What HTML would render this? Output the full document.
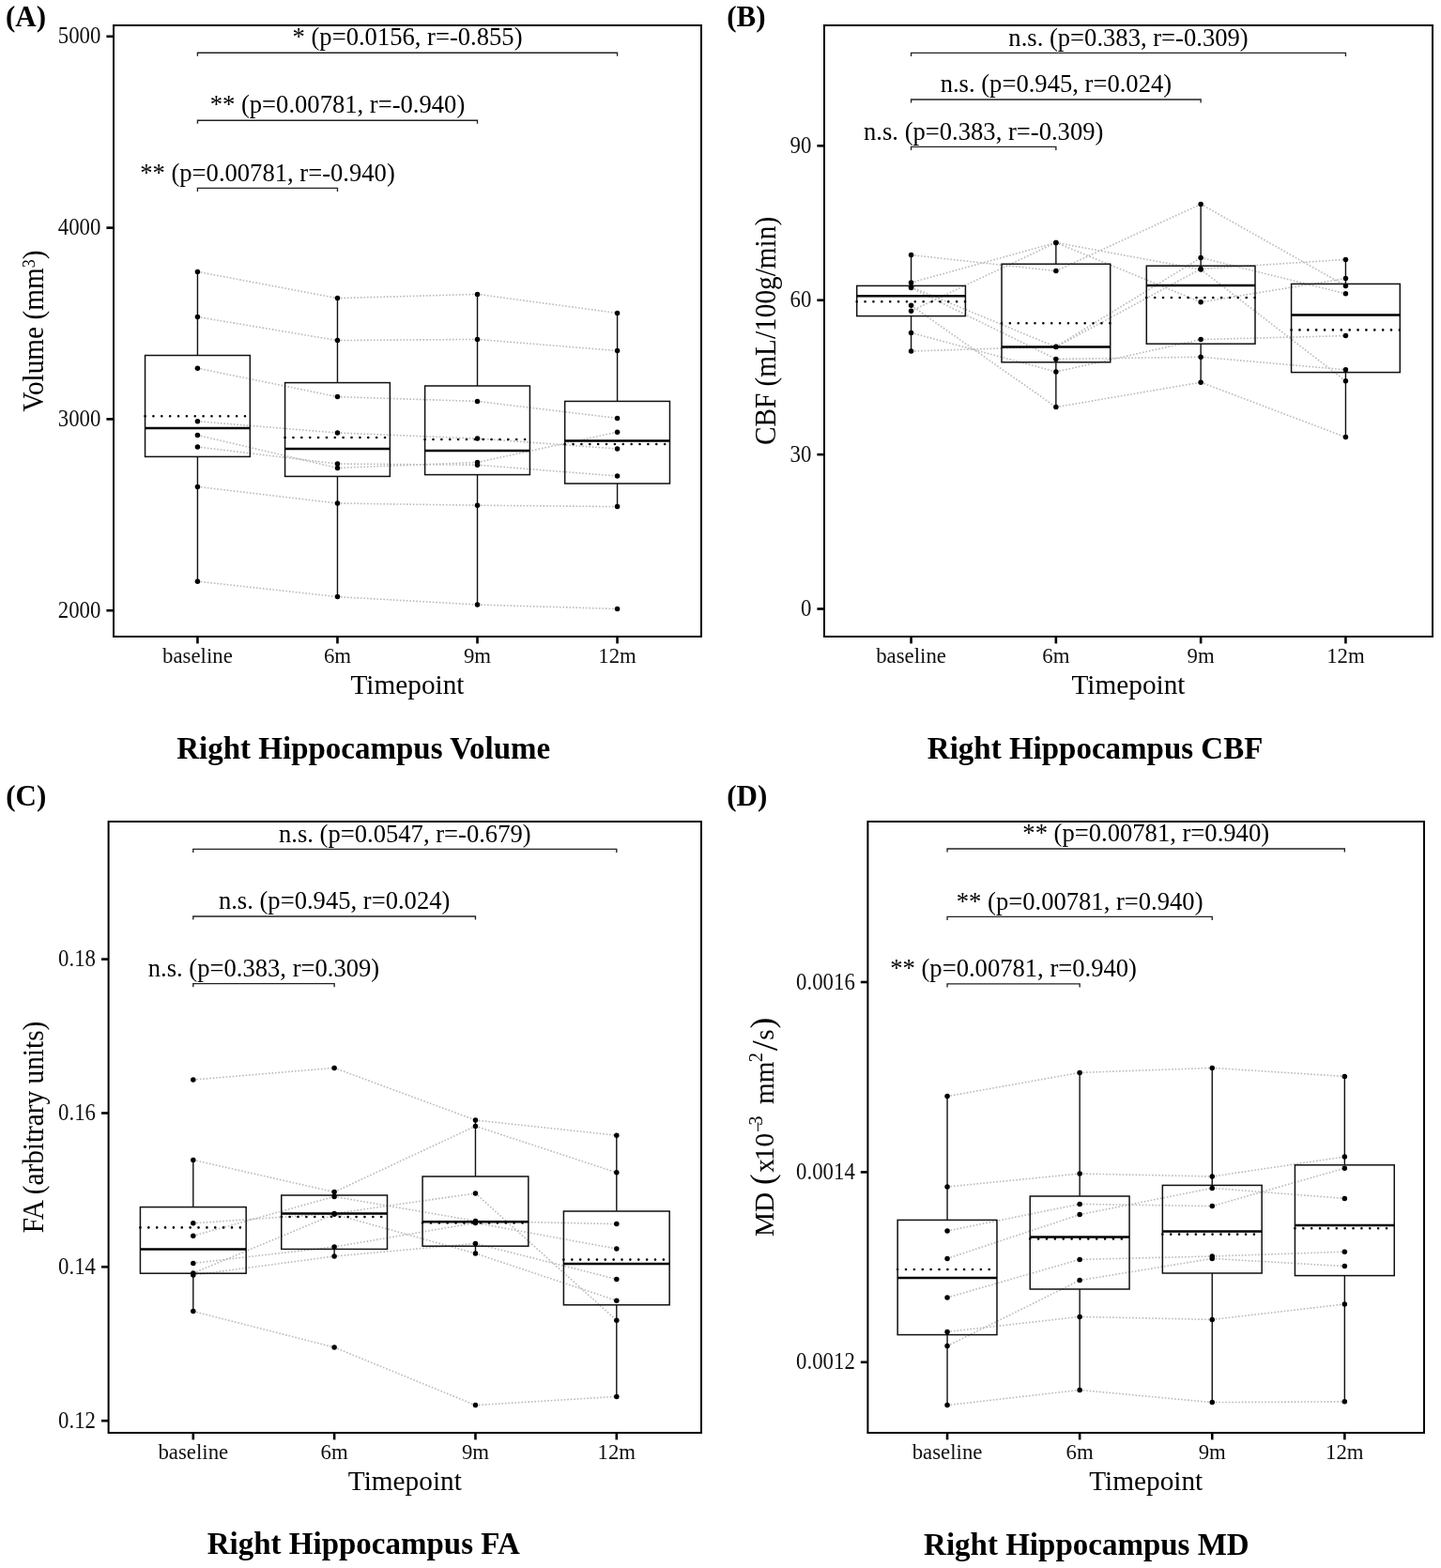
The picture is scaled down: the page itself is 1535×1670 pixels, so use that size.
<!DOCTYPE html>
<html><head><meta charset="utf-8"><title>Right Hippocampus figure</title>
<style>
html,body{margin:0;padding:0;background:#fff;}
body{width:1535px;height:1670px;overflow:hidden;}
svg{display:block;}
text{font-family:"Liberation Serif", "Times New Roman", serif;fill:#000;}
.ann{font-size:26.6px;text-anchor:middle;}
.yt{font-size:22.8px;text-anchor:end;fill:#111;}
.xt{font-size:22.8px;text-anchor:middle;fill:#111;}
.ti{font-size:29.3px;text-anchor:middle;}
.cap{font-size:33.0px;font-weight:bold;text-anchor:middle;}
.lab{font-size:31.0px;font-weight:bold;}
.fr{fill:none;stroke:#000;stroke-width:2.0;}
.tk{stroke:#000;stroke-width:2.6;}
.bx{fill:none;stroke:#111;stroke-width:1.5;}
.wh{stroke:#111;stroke-width:1.4;}
.md{stroke:#000;stroke-width:2.5;}
.mn{stroke:#000;stroke-width:2.6;stroke-linecap:round;stroke-dasharray:0.01 8.86;}
.br{fill:none;stroke:#222;stroke-width:1.35;}
.sl{stroke:#bababa;stroke-width:1.6;stroke-dasharray:1.6 1.9;}
circle{fill:#000;}
</style></head><body>
<svg width="1535" height="1670" viewBox="0 0 1535 1670">
<rect width="1535" height="1670" fill="#fff"/>
<g>
<line x1="210.43" y1="289.4" x2="359.48" y2="317.6" class="sl"/>
<line x1="210.43" y1="337.5" x2="359.48" y2="362.6" class="sl"/>
<line x1="210.43" y1="392.2" x2="359.48" y2="422.6" class="sl"/>
<line x1="210.43" y1="448.7" x2="359.48" y2="461" class="sl"/>
<line x1="210.43" y1="463.5" x2="359.48" y2="498.4" class="sl"/>
<line x1="210.43" y1="476" x2="359.48" y2="494" class="sl"/>
<line x1="210.43" y1="518.4" x2="359.48" y2="536" class="sl"/>
<line x1="210.43" y1="619.2" x2="359.48" y2="635.6" class="sl"/>
<line x1="359.48" y1="317.6" x2="508.52" y2="313.4" class="sl"/>
<line x1="359.48" y1="362.6" x2="508.52" y2="361.4" class="sl"/>
<line x1="359.48" y1="422.6" x2="508.52" y2="427.4" class="sl"/>
<line x1="359.48" y1="461" x2="508.52" y2="467" class="sl"/>
<line x1="359.48" y1="494" x2="508.52" y2="495.2" class="sl"/>
<line x1="359.48" y1="498.4" x2="508.52" y2="492.4" class="sl"/>
<line x1="359.48" y1="536" x2="508.52" y2="538.2" class="sl"/>
<line x1="359.48" y1="635.6" x2="508.52" y2="644" class="sl"/>
<line x1="508.52" y1="313.4" x2="657.57" y2="333.4" class="sl"/>
<line x1="508.52" y1="361.4" x2="657.57" y2="373.6" class="sl"/>
<line x1="508.52" y1="427.4" x2="657.57" y2="445.4" class="sl"/>
<line x1="508.52" y1="467" x2="657.57" y2="478" class="sl"/>
<line x1="508.52" y1="492.4" x2="657.57" y2="460.2" class="sl"/>
<line x1="508.52" y1="495.2" x2="657.57" y2="507" class="sl"/>
<line x1="508.52" y1="538.2" x2="657.57" y2="539.6" class="sl"/>
<line x1="508.52" y1="644" x2="657.57" y2="648.5" class="sl"/>
<line x1="210.43" y1="289.4" x2="210.43" y2="378.5" class="wh"/>
<line x1="210.43" y1="486.4" x2="210.43" y2="619.2" class="wh"/>
<rect x="154.54" y="378.5" width="111.79" height="107.9" class="bx"/>
<line x1="154.54" y1="456" x2="266.32" y2="456" class="md"/>
<line x1="154.54" y1="443.2" x2="266.32" y2="443.2" class="mn"/>
<circle cx="210.43" cy="289.4" r="2.75"/>
<circle cx="210.43" cy="337.5" r="2.75"/>
<circle cx="210.43" cy="392.2" r="2.75"/>
<circle cx="210.43" cy="448.7" r="2.75"/>
<circle cx="210.43" cy="463.5" r="2.75"/>
<circle cx="210.43" cy="476" r="2.75"/>
<circle cx="210.43" cy="518.4" r="2.75"/>
<circle cx="210.43" cy="619.2" r="2.75"/>
<line x1="359.48" y1="317.6" x2="359.48" y2="407.6" class="wh"/>
<line x1="359.48" y1="507.4" x2="359.48" y2="635.6" class="wh"/>
<rect x="303.58" y="407.6" width="111.79" height="99.8" class="bx"/>
<line x1="303.58" y1="478" x2="415.37" y2="478" class="md"/>
<line x1="303.58" y1="466" x2="415.37" y2="466" class="mn"/>
<circle cx="359.48" cy="317.6" r="2.75"/>
<circle cx="359.48" cy="362.6" r="2.75"/>
<circle cx="359.48" cy="422.6" r="2.75"/>
<circle cx="359.48" cy="461" r="2.75"/>
<circle cx="359.48" cy="494" r="2.75"/>
<circle cx="359.48" cy="498.4" r="2.75"/>
<circle cx="359.48" cy="536" r="2.75"/>
<circle cx="359.48" cy="635.6" r="2.75"/>
<line x1="508.52" y1="313.4" x2="508.52" y2="411" class="wh"/>
<line x1="508.52" y1="505.6" x2="508.52" y2="644" class="wh"/>
<rect x="452.63" y="411" width="111.79" height="94.6" class="bx"/>
<line x1="452.63" y1="480" x2="564.42" y2="480" class="md"/>
<line x1="452.63" y1="468" x2="564.42" y2="468" class="mn"/>
<circle cx="508.52" cy="313.4" r="2.75"/>
<circle cx="508.52" cy="361.4" r="2.75"/>
<circle cx="508.52" cy="427.4" r="2.75"/>
<circle cx="508.52" cy="467" r="2.75"/>
<circle cx="508.52" cy="492.4" r="2.75"/>
<circle cx="508.52" cy="495.2" r="2.75"/>
<circle cx="508.52" cy="538.2" r="2.75"/>
<circle cx="508.52" cy="644" r="2.75"/>
<line x1="657.57" y1="333.4" x2="657.57" y2="427.4" class="wh"/>
<line x1="657.57" y1="515" x2="657.57" y2="539.6" class="wh"/>
<rect x="601.68" y="427.4" width="111.79" height="87.6" class="bx"/>
<line x1="601.68" y1="469.4" x2="713.46" y2="469.4" class="md"/>
<line x1="601.68" y1="473" x2="713.46" y2="473" class="mn"/>
<circle cx="657.57" cy="333.4" r="2.75"/>
<circle cx="657.57" cy="373.6" r="2.75"/>
<circle cx="657.57" cy="445.4" r="2.75"/>
<circle cx="657.57" cy="460.2" r="2.75"/>
<circle cx="657.57" cy="478" r="2.75"/>
<circle cx="657.57" cy="507" r="2.75"/>
<circle cx="657.57" cy="539.6" r="2.75"/>
<circle cx="657.57" cy="648.5" r="2.75"/>
<path d="M210.43 59.8V56.2H657.57V59.8" class="br"/>
<text transform="translate(434 48.4) scale(1 1.03)" class="ann">* (p=0.0156, r=-0.855)</text>
<path d="M210.43 131.8V128.2H508.52V131.8" class="br"/>
<text transform="translate(359.48 120.4) scale(1 1.03)" class="ann">** (p=0.00781, r=-0.940)</text>
<path d="M210.43 204V200.4H359.48V204" class="br"/>
<text transform="translate(284.95 192.6) scale(1 1.03)" class="ann">** (p=0.00781, r=-0.940)</text>
<rect x="121" y="27" width="626" height="651" class="fr"/>
<line x1="113.4" y1="38.8" x2="121" y2="38.8" class="tk"/>
<text transform="translate(107.4 46.4) scale(1 1.07)" class="yt">5000</text>
<line x1="113.4" y1="242.6" x2="121" y2="242.6" class="tk"/>
<text transform="translate(107.4 250.2) scale(1 1.07)" class="yt">4000</text>
<line x1="113.4" y1="446.4" x2="121" y2="446.4" class="tk"/>
<text transform="translate(107.4 454) scale(1 1.07)" class="yt">3000</text>
<line x1="113.4" y1="650.2" x2="121" y2="650.2" class="tk"/>
<text transform="translate(107.4 657.8) scale(1 1.07)" class="yt">2000</text>
<line x1="210.43" y1="678" x2="210.43" y2="685.4" class="tk"/>
<text transform="translate(210.43 706) scale(1 1.0)" class="xt">baseline</text>
<line x1="359.48" y1="678" x2="359.48" y2="685.4" class="tk"/>
<text transform="translate(359.48 706) scale(1 1.0)" class="xt">6m</text>
<line x1="508.52" y1="678" x2="508.52" y2="685.4" class="tk"/>
<text transform="translate(508.52 706) scale(1 1.0)" class="xt">9m</text>
<line x1="657.57" y1="678" x2="657.57" y2="685.4" class="tk"/>
<text transform="translate(657.57 706) scale(1 1.0)" class="xt">12m</text>
<text transform="translate(434 739) scale(1 1.0)" class="ti">Timepoint</text>
<text transform="translate(46.3 352.5) rotate(-90) scale(1 1.045)" class="ti">Volume (mm<tspan font-size="18" dy="-8.6">3</tspan><tspan dy="8.6">)</tspan></text>
<text x="387.2" y="808" class="cap">Right Hippocampus Volume</text>
<text x="6" y="28.2" class="lab">(A)</text>
</g>
<g>
<line x1="970.57" y1="271.6" x2="1124.86" y2="288.6" class="sl"/>
<line x1="970.57" y1="301" x2="1124.86" y2="258.4" class="sl"/>
<line x1="970.57" y1="305.6" x2="1124.86" y2="369.6" class="sl"/>
<line x1="970.57" y1="306.6" x2="1124.86" y2="382.4" class="sl"/>
<line x1="970.57" y1="325.2" x2="1124.86" y2="433.6" class="sl"/>
<line x1="970.57" y1="331.2" x2="1124.86" y2="258.4" class="sl"/>
<line x1="970.57" y1="354.4" x2="1124.86" y2="396" class="sl"/>
<line x1="970.57" y1="374" x2="1124.86" y2="369.2" class="sl"/>
<line x1="1124.86" y1="258.4" x2="1279.14" y2="287" class="sl"/>
<line x1="1124.86" y1="258.4" x2="1279.14" y2="321.8" class="sl"/>
<line x1="1124.86" y1="288.6" x2="1279.14" y2="217.4" class="sl"/>
<line x1="1124.86" y1="369.2" x2="1279.14" y2="274.4" class="sl"/>
<line x1="1124.86" y1="369.6" x2="1279.14" y2="286.4" class="sl"/>
<line x1="1124.86" y1="382.4" x2="1279.14" y2="380.2" class="sl"/>
<line x1="1124.86" y1="396" x2="1279.14" y2="361.6" class="sl"/>
<line x1="1124.86" y1="433.6" x2="1279.14" y2="407.2" class="sl"/>
<line x1="1279.14" y1="217.4" x2="1433.43" y2="304.4" class="sl"/>
<line x1="1279.14" y1="274.4" x2="1433.43" y2="312.8" class="sl"/>
<line x1="1279.14" y1="286.4" x2="1433.43" y2="276.4" class="sl"/>
<line x1="1279.14" y1="287" x2="1433.43" y2="405.8" class="sl"/>
<line x1="1279.14" y1="321.8" x2="1433.43" y2="296.6" class="sl"/>
<line x1="1279.14" y1="361.6" x2="1433.43" y2="357.6" class="sl"/>
<line x1="1279.14" y1="380.2" x2="1433.43" y2="393.8" class="sl"/>
<line x1="1279.14" y1="407.2" x2="1433.43" y2="465.6" class="sl"/>
<line x1="970.57" y1="271.6" x2="970.57" y2="304.4" class="wh"/>
<line x1="970.57" y1="336.6" x2="970.57" y2="374" class="wh"/>
<rect x="912.71" y="304.4" width="115.71" height="32.2" class="bx"/>
<line x1="912.71" y1="315.2" x2="1028.43" y2="315.2" class="md"/>
<line x1="912.71" y1="321.2" x2="1028.43" y2="321.2" class="mn"/>
<circle cx="970.57" cy="271.6" r="2.75"/>
<circle cx="970.57" cy="301" r="2.75"/>
<circle cx="970.57" cy="305.6" r="2.75"/>
<circle cx="970.57" cy="306.6" r="2.75"/>
<circle cx="970.57" cy="325.2" r="2.75"/>
<circle cx="970.57" cy="331.2" r="2.75"/>
<circle cx="970.57" cy="354.4" r="2.75"/>
<circle cx="970.57" cy="374" r="2.75"/>
<line x1="1124.86" y1="258.4" x2="1124.86" y2="281.2" class="wh"/>
<line x1="1124.86" y1="385.8" x2="1124.86" y2="433.6" class="wh"/>
<rect x="1067" y="281.2" width="115.71" height="104.6" class="bx"/>
<line x1="1067" y1="369.4" x2="1182.71" y2="369.4" class="md"/>
<line x1="1067" y1="344.2" x2="1182.71" y2="344.2" class="mn"/>
<circle cx="1124.86" cy="258.4" r="2.75"/>
<circle cx="1124.86" cy="258.4" r="2.75"/>
<circle cx="1124.86" cy="288.6" r="2.75"/>
<circle cx="1124.86" cy="369.2" r="2.75"/>
<circle cx="1124.86" cy="369.6" r="2.75"/>
<circle cx="1124.86" cy="382.4" r="2.75"/>
<circle cx="1124.86" cy="396" r="2.75"/>
<circle cx="1124.86" cy="433.6" r="2.75"/>
<line x1="1279.14" y1="217.4" x2="1279.14" y2="283.2" class="wh"/>
<line x1="1279.14" y1="366.2" x2="1279.14" y2="407.2" class="wh"/>
<rect x="1221.29" y="283.2" width="115.71" height="83" class="bx"/>
<line x1="1221.29" y1="304" x2="1337" y2="304" class="md"/>
<line x1="1221.29" y1="317" x2="1337" y2="317" class="mn"/>
<circle cx="1279.14" cy="217.4" r="2.75"/>
<circle cx="1279.14" cy="274.4" r="2.75"/>
<circle cx="1279.14" cy="286.4" r="2.75"/>
<circle cx="1279.14" cy="287" r="2.75"/>
<circle cx="1279.14" cy="321.8" r="2.75"/>
<circle cx="1279.14" cy="361.6" r="2.75"/>
<circle cx="1279.14" cy="380.2" r="2.75"/>
<circle cx="1279.14" cy="407.2" r="2.75"/>
<line x1="1433.43" y1="276.4" x2="1433.43" y2="302.4" class="wh"/>
<line x1="1433.43" y1="396.6" x2="1433.43" y2="465.6" class="wh"/>
<rect x="1375.57" y="302.4" width="115.71" height="94.2" class="bx"/>
<line x1="1375.57" y1="335.5" x2="1491.29" y2="335.5" class="md"/>
<line x1="1375.57" y1="351.4" x2="1491.29" y2="351.4" class="mn"/>
<circle cx="1433.43" cy="276.4" r="2.75"/>
<circle cx="1433.43" cy="296.6" r="2.75"/>
<circle cx="1433.43" cy="304.4" r="2.75"/>
<circle cx="1433.43" cy="312.8" r="2.75"/>
<circle cx="1433.43" cy="357.6" r="2.75"/>
<circle cx="1433.43" cy="393.8" r="2.75"/>
<circle cx="1433.43" cy="405.8" r="2.75"/>
<circle cx="1433.43" cy="465.6" r="2.75"/>
<path d="M970.57 60V56.4H1433.43V60" class="br"/>
<text transform="translate(1202 48.6) scale(1 1.03)" class="ann">n.s. (p=0.383, r=-0.309)</text>
<path d="M970.57 109.6V106H1279.14V109.6" class="br"/>
<text transform="translate(1124.86 98.2) scale(1 1.03)" class="ann">n.s. (p=0.945, r=0.024)</text>
<path d="M970.57 160V156.4H1124.86V160" class="br"/>
<text transform="translate(1047.71 148.6) scale(1 1.03)" class="ann">n.s. (p=0.383, r=-0.309)</text>
<rect x="878" y="27" width="648" height="651" class="fr"/>
<line x1="870.4" y1="648.5" x2="878" y2="648.5" class="tk"/>
<text transform="translate(864.4 656.1) scale(1 1.07)" class="yt">0</text>
<line x1="870.4" y1="484.1" x2="878" y2="484.1" class="tk"/>
<text transform="translate(864.4 491.7) scale(1 1.07)" class="yt">30</text>
<line x1="870.4" y1="319.7" x2="878" y2="319.7" class="tk"/>
<text transform="translate(864.4 327.3) scale(1 1.07)" class="yt">60</text>
<line x1="870.4" y1="155.3" x2="878" y2="155.3" class="tk"/>
<text transform="translate(864.4 162.9) scale(1 1.07)" class="yt">90</text>
<line x1="970.57" y1="678" x2="970.57" y2="685.4" class="tk"/>
<text transform="translate(970.57 706) scale(1 1.0)" class="xt">baseline</text>
<line x1="1124.86" y1="678" x2="1124.86" y2="685.4" class="tk"/>
<text transform="translate(1124.86 706) scale(1 1.0)" class="xt">6m</text>
<line x1="1279.14" y1="678" x2="1279.14" y2="685.4" class="tk"/>
<text transform="translate(1279.14 706) scale(1 1.0)" class="xt">9m</text>
<line x1="1433.43" y1="678" x2="1433.43" y2="685.4" class="tk"/>
<text transform="translate(1433.43 706) scale(1 1.0)" class="xt">12m</text>
<text transform="translate(1202 739) scale(1 1.0)" class="ti">Timepoint</text>
<text transform="translate(826.1 352.5) rotate(-90) scale(1 1.045)" class="ti">CBF (mL/100g/min)</text>
<text x="1166.6" y="808.2" class="cap">Right Hippocampus CBF</text>
<text x="774.3" y="28.2" class="lab">(B)</text>
</g>
<g>
<line x1="205.8" y1="1150" x2="356.13" y2="1137.4" class="sl"/>
<line x1="205.8" y1="1235.4" x2="356.13" y2="1269.6" class="sl"/>
<line x1="205.8" y1="1302.8" x2="356.13" y2="1292.4" class="sl"/>
<line x1="205.8" y1="1316.2" x2="356.13" y2="1274.4" class="sl"/>
<line x1="205.8" y1="1345.4" x2="356.13" y2="1328" class="sl"/>
<line x1="205.8" y1="1356" x2="356.13" y2="1293.2" class="sl"/>
<line x1="205.8" y1="1358" x2="356.13" y2="1338" class="sl"/>
<line x1="205.8" y1="1396.6" x2="356.13" y2="1435" class="sl"/>
<line x1="356.13" y1="1137.4" x2="506.47" y2="1193" class="sl"/>
<line x1="356.13" y1="1269.6" x2="506.47" y2="1199.4" class="sl"/>
<line x1="356.13" y1="1274.4" x2="506.47" y2="1300.4" class="sl"/>
<line x1="356.13" y1="1292.4" x2="506.47" y2="1271" class="sl"/>
<line x1="356.13" y1="1293.2" x2="506.47" y2="1335" class="sl"/>
<line x1="356.13" y1="1328" x2="506.47" y2="1302.4" class="sl"/>
<line x1="356.13" y1="1338" x2="506.47" y2="1324.4" class="sl"/>
<line x1="356.13" y1="1435" x2="506.47" y2="1496.6" class="sl"/>
<line x1="506.47" y1="1193" x2="656.8" y2="1209.2" class="sl"/>
<line x1="506.47" y1="1199.4" x2="656.8" y2="1248.8" class="sl"/>
<line x1="506.47" y1="1271" x2="656.8" y2="1406.2" class="sl"/>
<line x1="506.47" y1="1300.4" x2="656.8" y2="1303.6" class="sl"/>
<line x1="506.47" y1="1302.4" x2="656.8" y2="1330" class="sl"/>
<line x1="506.47" y1="1324.4" x2="656.8" y2="1362.4" class="sl"/>
<line x1="506.47" y1="1335" x2="656.8" y2="1385.2" class="sl"/>
<line x1="506.47" y1="1496.6" x2="656.8" y2="1487.4" class="sl"/>
<line x1="205.8" y1="1235.4" x2="205.8" y2="1285.6" class="wh"/>
<line x1="205.8" y1="1356.2" x2="205.8" y2="1396.6" class="wh"/>
<rect x="149.42" y="1285.6" width="112.75" height="70.6" class="bx"/>
<line x1="149.42" y1="1330.4" x2="262.17" y2="1330.4" class="md"/>
<line x1="149.42" y1="1307.4" x2="262.17" y2="1307.4" class="mn"/>
<circle cx="205.8" cy="1150" r="2.75"/>
<circle cx="205.8" cy="1235.4" r="2.75"/>
<circle cx="205.8" cy="1302.8" r="2.75"/>
<circle cx="205.8" cy="1316.2" r="2.75"/>
<circle cx="205.8" cy="1345.4" r="2.75"/>
<circle cx="205.8" cy="1356" r="2.75"/>
<circle cx="205.8" cy="1358" r="2.75"/>
<circle cx="205.8" cy="1396.6" r="2.75"/>
<line x1="356.13" y1="1269.6" x2="356.13" y2="1273" class="wh"/>
<line x1="356.13" y1="1330.4" x2="356.13" y2="1338" class="wh"/>
<rect x="299.76" y="1273" width="112.75" height="57.4" class="bx"/>
<line x1="299.76" y1="1292.4" x2="412.51" y2="1292.4" class="md"/>
<line x1="299.76" y1="1296" x2="412.51" y2="1296" class="mn"/>
<circle cx="356.13" cy="1137.4" r="2.75"/>
<circle cx="356.13" cy="1269.6" r="2.75"/>
<circle cx="356.13" cy="1274.4" r="2.75"/>
<circle cx="356.13" cy="1292.4" r="2.75"/>
<circle cx="356.13" cy="1293.2" r="2.75"/>
<circle cx="356.13" cy="1328" r="2.75"/>
<circle cx="356.13" cy="1338" r="2.75"/>
<circle cx="356.13" cy="1435" r="2.75"/>
<line x1="506.47" y1="1193" x2="506.47" y2="1253" class="wh"/>
<line x1="506.47" y1="1327.2" x2="506.47" y2="1335" class="wh"/>
<rect x="450.09" y="1253" width="112.75" height="74.2" class="bx"/>
<line x1="450.09" y1="1301.2" x2="562.84" y2="1301.2" class="md"/>
<line x1="450.09" y1="1302.4" x2="562.84" y2="1302.4" class="mn"/>
<circle cx="506.47" cy="1193" r="2.75"/>
<circle cx="506.47" cy="1199.4" r="2.75"/>
<circle cx="506.47" cy="1271" r="2.75"/>
<circle cx="506.47" cy="1300.4" r="2.75"/>
<circle cx="506.47" cy="1302.4" r="2.75"/>
<circle cx="506.47" cy="1324.4" r="2.75"/>
<circle cx="506.47" cy="1335" r="2.75"/>
<circle cx="506.47" cy="1496.6" r="2.75"/>
<line x1="656.8" y1="1209.2" x2="656.8" y2="1290" class="wh"/>
<line x1="656.8" y1="1389.8" x2="656.8" y2="1487.4" class="wh"/>
<rect x="600.42" y="1290" width="112.75" height="99.8" class="bx"/>
<line x1="600.42" y1="1346" x2="713.17" y2="1346" class="md"/>
<line x1="600.42" y1="1341.6" x2="713.17" y2="1341.6" class="mn"/>
<circle cx="656.8" cy="1209.2" r="2.75"/>
<circle cx="656.8" cy="1248.8" r="2.75"/>
<circle cx="656.8" cy="1303.6" r="2.75"/>
<circle cx="656.8" cy="1330" r="2.75"/>
<circle cx="656.8" cy="1362.4" r="2.75"/>
<circle cx="656.8" cy="1385.2" r="2.75"/>
<circle cx="656.8" cy="1406.2" r="2.75"/>
<circle cx="656.8" cy="1487.4" r="2.75"/>
<path d="M205.8 908V904.4H656.8V908" class="br"/>
<text transform="translate(431.3 896.6) scale(1 1.03)" class="ann">n.s. (p=0.0547, r=-0.679)</text>
<path d="M205.8 979.6V976H506.47V979.6" class="br"/>
<text transform="translate(356.13 968.2) scale(1 1.03)" class="ann">n.s. (p=0.945, r=0.024)</text>
<path d="M205.8 1051.2V1047.6H356.13V1051.2" class="br"/>
<text transform="translate(280.97 1039.8) scale(1 1.03)" class="ann">n.s. (p=0.383, r=0.309)</text>
<rect x="115.6" y="875" width="631.4" height="651" class="fr"/>
<line x1="108" y1="1513.2" x2="115.6" y2="1513.2" class="tk"/>
<text transform="translate(102 1520.8) scale(1 1.07)" class="yt">0.12</text>
<line x1="108" y1="1349.3" x2="115.6" y2="1349.3" class="tk"/>
<text transform="translate(102 1356.9) scale(1 1.07)" class="yt">0.14</text>
<line x1="108" y1="1185.5" x2="115.6" y2="1185.5" class="tk"/>
<text transform="translate(102 1193.1) scale(1 1.07)" class="yt">0.16</text>
<line x1="108" y1="1021.6" x2="115.6" y2="1021.6" class="tk"/>
<text transform="translate(102 1029.2) scale(1 1.07)" class="yt">0.18</text>
<line x1="205.8" y1="1526" x2="205.8" y2="1533.4" class="tk"/>
<text transform="translate(205.8 1554) scale(1 1.0)" class="xt">baseline</text>
<line x1="356.13" y1="1526" x2="356.13" y2="1533.4" class="tk"/>
<text transform="translate(356.13 1554) scale(1 1.0)" class="xt">6m</text>
<line x1="506.47" y1="1526" x2="506.47" y2="1533.4" class="tk"/>
<text transform="translate(506.47 1554) scale(1 1.0)" class="xt">9m</text>
<line x1="656.8" y1="1526" x2="656.8" y2="1533.4" class="tk"/>
<text transform="translate(656.8 1554) scale(1 1.0)" class="xt">12m</text>
<text transform="translate(431.3 1587) scale(1 1.0)" class="ti">Timepoint</text>
<text transform="translate(46.3 1200.5) rotate(-90) scale(1 1.045)" class="ti">FA (arbitrary units)</text>
<text x="387.3" y="1654.7" class="cap">Right Hippocampus FA</text>
<text x="6.3" y="858" class="lab">(C)</text>
</g>
<g>
<line x1="1009.06" y1="1167.6" x2="1150.15" y2="1142.4" class="sl"/>
<line x1="1009.06" y1="1264" x2="1150.15" y2="1250" class="sl"/>
<line x1="1009.06" y1="1311" x2="1150.15" y2="1282.4" class="sl"/>
<line x1="1009.06" y1="1340.4" x2="1150.15" y2="1293.6" class="sl"/>
<line x1="1009.06" y1="1382" x2="1150.15" y2="1341.4" class="sl"/>
<line x1="1009.06" y1="1418.4" x2="1150.15" y2="1402.4" class="sl"/>
<line x1="1009.06" y1="1433.6" x2="1150.15" y2="1363.6" class="sl"/>
<line x1="1009.06" y1="1496.6" x2="1150.15" y2="1480.4" class="sl"/>
<line x1="1150.15" y1="1142.4" x2="1291.25" y2="1137.4" class="sl"/>
<line x1="1150.15" y1="1250" x2="1291.25" y2="1253" class="sl"/>
<line x1="1150.15" y1="1282.4" x2="1291.25" y2="1284.6" class="sl"/>
<line x1="1150.15" y1="1293.6" x2="1291.25" y2="1265.4" class="sl"/>
<line x1="1150.15" y1="1341.4" x2="1291.25" y2="1338" class="sl"/>
<line x1="1150.15" y1="1363.6" x2="1291.25" y2="1340.4" class="sl"/>
<line x1="1150.15" y1="1402.4" x2="1291.25" y2="1405.4" class="sl"/>
<line x1="1150.15" y1="1480.4" x2="1291.25" y2="1493.6" class="sl"/>
<line x1="1291.25" y1="1137.4" x2="1432.34" y2="1146.4" class="sl"/>
<line x1="1291.25" y1="1253" x2="1432.34" y2="1232" class="sl"/>
<line x1="1291.25" y1="1265.4" x2="1432.34" y2="1276.4" class="sl"/>
<line x1="1291.25" y1="1284.6" x2="1432.34" y2="1244.2" class="sl"/>
<line x1="1291.25" y1="1338" x2="1432.34" y2="1333.2" class="sl"/>
<line x1="1291.25" y1="1340.4" x2="1432.34" y2="1348.6" class="sl"/>
<line x1="1291.25" y1="1405.4" x2="1432.34" y2="1389" class="sl"/>
<line x1="1291.25" y1="1493.6" x2="1432.34" y2="1492.8" class="sl"/>
<line x1="1009.06" y1="1167.6" x2="1009.06" y2="1299.4" class="wh"/>
<line x1="1009.06" y1="1421.6" x2="1009.06" y2="1496.6" class="wh"/>
<rect x="956.15" y="1299.4" width="105.82" height="122.2" class="bx"/>
<line x1="956.15" y1="1361" x2="1061.97" y2="1361" class="md"/>
<line x1="956.15" y1="1352" x2="1061.97" y2="1352" class="mn"/>
<circle cx="1009.06" cy="1167.6" r="2.75"/>
<circle cx="1009.06" cy="1264" r="2.75"/>
<circle cx="1009.06" cy="1311" r="2.75"/>
<circle cx="1009.06" cy="1340.4" r="2.75"/>
<circle cx="1009.06" cy="1382" r="2.75"/>
<circle cx="1009.06" cy="1418.4" r="2.75"/>
<circle cx="1009.06" cy="1433.6" r="2.75"/>
<circle cx="1009.06" cy="1496.6" r="2.75"/>
<line x1="1150.15" y1="1142.4" x2="1150.15" y2="1274" class="wh"/>
<line x1="1150.15" y1="1373" x2="1150.15" y2="1480.4" class="wh"/>
<rect x="1097.24" y="1274" width="105.82" height="99" class="bx"/>
<line x1="1097.24" y1="1317.6" x2="1203.06" y2="1317.6" class="md"/>
<line x1="1097.24" y1="1319.4" x2="1203.06" y2="1319.4" class="mn"/>
<circle cx="1150.15" cy="1142.4" r="2.75"/>
<circle cx="1150.15" cy="1250" r="2.75"/>
<circle cx="1150.15" cy="1282.4" r="2.75"/>
<circle cx="1150.15" cy="1293.6" r="2.75"/>
<circle cx="1150.15" cy="1341.4" r="2.75"/>
<circle cx="1150.15" cy="1363.6" r="2.75"/>
<circle cx="1150.15" cy="1402.4" r="2.75"/>
<circle cx="1150.15" cy="1480.4" r="2.75"/>
<line x1="1291.25" y1="1137.4" x2="1291.25" y2="1262.4" class="wh"/>
<line x1="1291.25" y1="1356" x2="1291.25" y2="1493.6" class="wh"/>
<rect x="1238.34" y="1262.4" width="105.82" height="93.6" class="bx"/>
<line x1="1238.34" y1="1311.5" x2="1344.16" y2="1311.5" class="md"/>
<line x1="1238.34" y1="1314.6" x2="1344.16" y2="1314.6" class="mn"/>
<circle cx="1291.25" cy="1137.4" r="2.75"/>
<circle cx="1291.25" cy="1253" r="2.75"/>
<circle cx="1291.25" cy="1265.4" r="2.75"/>
<circle cx="1291.25" cy="1284.6" r="2.75"/>
<circle cx="1291.25" cy="1338" r="2.75"/>
<circle cx="1291.25" cy="1340.4" r="2.75"/>
<circle cx="1291.25" cy="1405.4" r="2.75"/>
<circle cx="1291.25" cy="1493.6" r="2.75"/>
<line x1="1432.34" y1="1146.4" x2="1432.34" y2="1240.8" class="wh"/>
<line x1="1432.34" y1="1358.6" x2="1432.34" y2="1492.8" class="wh"/>
<rect x="1379.43" y="1240.8" width="105.82" height="117.8" class="bx"/>
<line x1="1379.43" y1="1305" x2="1485.25" y2="1305" class="md"/>
<line x1="1379.43" y1="1308.2" x2="1485.25" y2="1308.2" class="mn"/>
<circle cx="1432.34" cy="1146.4" r="2.75"/>
<circle cx="1432.34" cy="1232" r="2.75"/>
<circle cx="1432.34" cy="1244.2" r="2.75"/>
<circle cx="1432.34" cy="1276.4" r="2.75"/>
<circle cx="1432.34" cy="1333.2" r="2.75"/>
<circle cx="1432.34" cy="1348.6" r="2.75"/>
<circle cx="1432.34" cy="1389" r="2.75"/>
<circle cx="1432.34" cy="1492.8" r="2.75"/>
<path d="M1009.06 907.6V904H1432.34V907.6" class="br"/>
<text transform="translate(1220.7 896.2) scale(1 1.03)" class="ann">** (p=0.00781, r=0.940)</text>
<path d="M1009.06 980V976.4H1291.25V980" class="br"/>
<text transform="translate(1150.15 968.6) scale(1 1.03)" class="ann">** (p=0.00781, r=0.940)</text>
<path d="M1009.06 1051.4V1047.8H1150.15V1051.4" class="br"/>
<text transform="translate(1079.6 1040) scale(1 1.03)" class="ann">** (p=0.00781, r=0.940)</text>
<rect x="924.4" y="875" width="592.6" height="651" class="fr"/>
<line x1="916.8" y1="1450.8" x2="924.4" y2="1450.8" class="tk"/>
<text transform="translate(910.8 1458.4) scale(1 1.07)" class="yt">0.0012</text>
<line x1="916.8" y1="1248.4" x2="924.4" y2="1248.4" class="tk"/>
<text transform="translate(910.8 1256) scale(1 1.07)" class="yt">0.0014</text>
<line x1="916.8" y1="1046" x2="924.4" y2="1046" class="tk"/>
<text transform="translate(910.8 1053.6) scale(1 1.07)" class="yt">0.0016</text>
<line x1="1009.06" y1="1526" x2="1009.06" y2="1533.4" class="tk"/>
<text transform="translate(1009.06 1554) scale(1 1.0)" class="xt">baseline</text>
<line x1="1150.15" y1="1526" x2="1150.15" y2="1533.4" class="tk"/>
<text transform="translate(1150.15 1554) scale(1 1.0)" class="xt">6m</text>
<line x1="1291.25" y1="1526" x2="1291.25" y2="1533.4" class="tk"/>
<text transform="translate(1291.25 1554) scale(1 1.0)" class="xt">9m</text>
<line x1="1432.34" y1="1526" x2="1432.34" y2="1533.4" class="tk"/>
<text transform="translate(1432.34 1554) scale(1 1.0)" class="xt">12m</text>
<text transform="translate(1220.7 1587) scale(1 1.0)" class="ti">Timepoint</text>
<text transform="translate(824.3 1316.2) rotate(-90) scale(1 1.0)" class="ti" style="text-anchor:start"><tspan x="-0.85" y="0" font-size="29.3">MD</tspan><tspan x="54.15" y="0" font-size="35.3">(</tspan><tspan x="67.54" y="0" font-size="29.3">x</tspan><tspan x="80.02" y="0" font-size="29.3">10</tspan><tspan x="110.17" y="-10.8" font-size="20.5">−</tspan><tspan x="117.42" y="-12.7" font-size="20.5">3</tspan><tspan x="140.08" y="0" font-size="29.3">mm</tspan><tspan x="185" y="-12.7" font-size="20.5">2</tspan><tspan x="197" y="3.7" font-size="40">/</tspan><tspan x="208.4" y="0" font-size="29.3">s</tspan><tspan x="220.67" y="0" font-size="35.3">)</tspan></text>
<text x="1157.4" y="1655.5" class="cap">Right Hippocampus MD</text>
<text x="774.3" y="858" class="lab">(D)</text>
</g>
</svg></body></html>
